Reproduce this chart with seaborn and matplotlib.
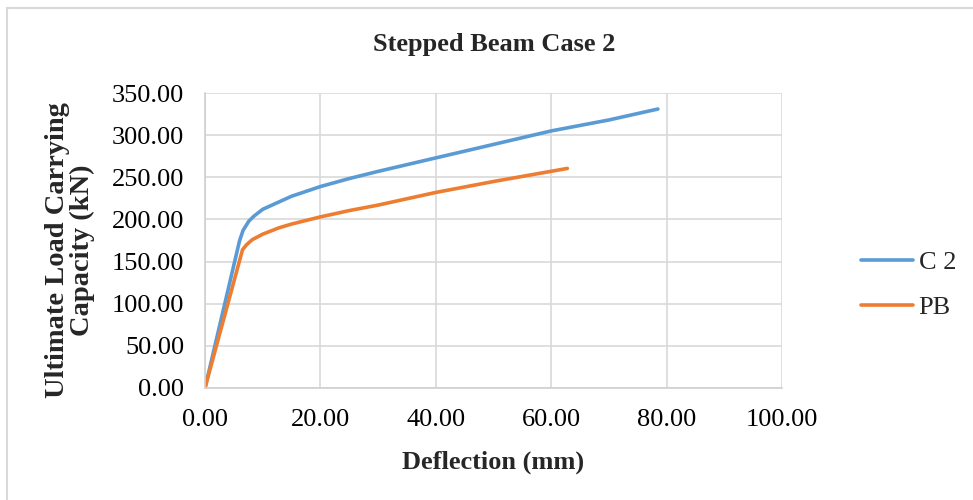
import matplotlib
matplotlib.use("Agg")
import matplotlib.pyplot as plt
import seaborn as sns
import pandas as pd
from matplotlib.ticker import FormatStrFormatter, MultipleLocator
from matplotlib.patches import Rectangle

# Data
c2_defl = [0.0, 6.0, 6.6, 7.6, 8.5, 10.0, 12.9, 15.0, 20.0, 25.0, 30.0, 40.0, 50.0, 60.0, 70.0, 78.5]
c2_load = [0.0, 175.0, 187.0, 198.0, 204.0, 212.0, 221.0, 227.5, 239.0, 248.5, 257.0, 273.0, 289.0, 305.0, 318.0, 331.0]
pb_defl = [0.0, 6.5, 7.2, 8.2, 10.0, 12.8, 15.0, 20.0, 25.0, 30.0, 40.0, 50.0, 62.8]
pb_load = [0.0, 164.0, 170.0, 176.0, 182.5, 190.0, 194.5, 203.0, 210.5, 217.0, 232.0, 245.0, 260.5]
series_names = ["C 2", "PB"]
colors = ["#5B9BD5", "#ED7D31"]

df = pd.concat([
    pd.DataFrame({"Deflection": c2_defl, "Load": c2_load, "Series": series_names[0]}),
    pd.DataFrame({"Deflection": pb_defl, "Load": pb_load, "Series": series_names[1]}),
], ignore_index=True)

sns.set_theme(style="white")
plt.rcParams["font.family"] = ["Liberation Serif", "DejaVu Serif"]

fig = plt.figure(figsize=(9.73, 5.0), dpi=100)
ax = fig.add_axes([205/973, 1-388/500, (782-205)/973, (388-93)/500])

sns.lineplot(data=df, x="Deflection", y="Load", hue="Series", palette=colors,
             sort=False, estimator=None, linewidth=2.6, ax=ax, legend=True)
for ln in ax.lines:
    ln.set_solid_joinstyle("round")
    ln.set_solid_capstyle("round")

ax.set_xlim(0, 100)
ax.set_ylim(0, 350)
ax.xaxis.set_major_locator(MultipleLocator(20))
ax.yaxis.set_major_locator(MultipleLocator(50))
ax.xaxis.set_major_formatter(FormatStrFormatter("%.2f"))
ax.yaxis.set_major_formatter(FormatStrFormatter("%.2f"))
ax.grid(True, color="#D9D9D9", linewidth=1.2)
ax.set_axisbelow(True)
for s in ["top", "right"]:
    ax.spines[s].set_visible(False)
for s in ["left", "bottom"]:
    ax.spines[s].set_color("#D0D0D0")
    ax.spines[s].set_linewidth(1.2)
ax.tick_params(axis="both", length=0, labelsize=19, colors="black")
ax.tick_params(axis="y", pad=15)
ax.tick_params(axis="x", pad=15)

ax.set_xlabel("Deflection (mm)", fontsize=19, fontweight="bold", labelpad=14)
ax.set_ylabel("")
fig.text(70/973, 1-250/500, "Ultimate Load Carrying\nCapacity (kN)", fontsize=20.5,
         fontweight="bold", rotation=90, ha="center", va="center",
         multialignment="center", linespacing=0.95)
fig.text(494/973, 1-44/500, "Stepped Beam Case 2", fontsize=19, fontweight="bold",
         ha="center", va="center")

handles, labels = ax.get_legend_handles_labels()
for h in handles:
    h.set_linewidth(2.6)
ax.legend(handles, labels, loc="center left", bbox_to_anchor=(850/973, 1-285/500),
          bbox_transform=fig.transFigure, frameon=False, fontsize=19,
          handlelength=2.0, handletextpad=0.2, labelspacing=0.8, borderaxespad=0)

fig.add_artist(Rectangle((7/973, -0.1), 1.2, 1 - 8/500 + 0.1, transform=fig.transFigure,
                         fill=False, edgecolor="#D9D9D9", linewidth=1.5))

fig.savefig("out.png", dpi=100)
